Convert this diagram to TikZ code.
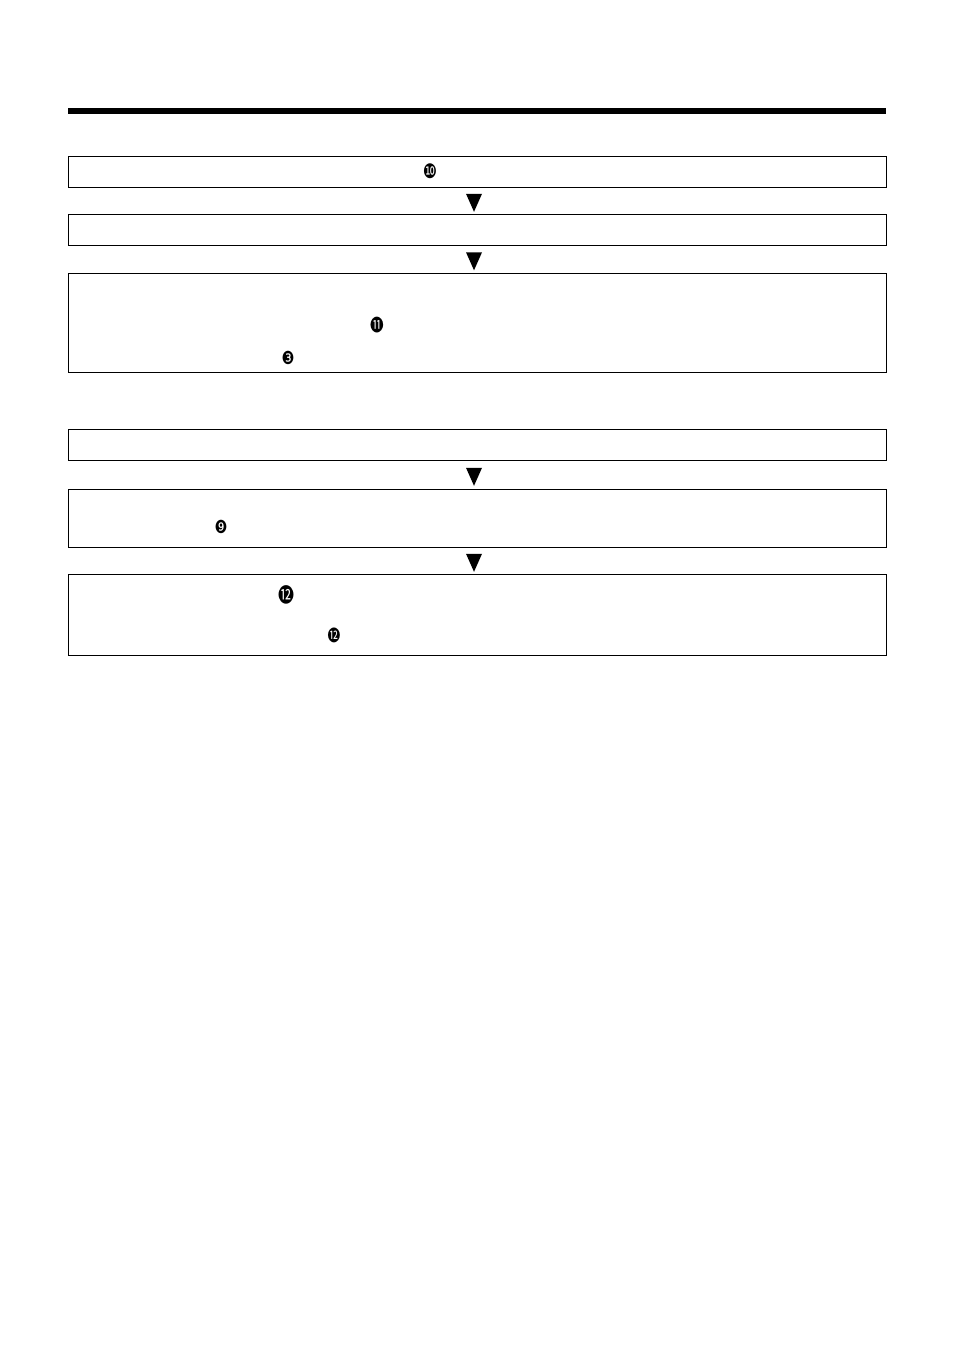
\documentclass[tikz,border=0pt]{standalone}
\usepackage{fontspec}
\newfontfamily\dejavu{DejaVu Sans}
\newfontfamily\cjkdot{Noto Sans CJK JP}
\usetikzlibrary{positioning,shapes.geometric}

\newcommand{\numtxt}[1]{\scalebox{0.8}[1]{#1}}

\begin{document}
\begin{tikzpicture}[x=1pt, y=-1pt, line width=1pt, inner sep=0pt, outer sep=0pt,
  flowbox/.style={draw, minimum width=818pt, anchor=north},
  numdot/.style={font=\dejavu\fontsize{20}{20}\selectfont},
  downtri/.style={isosceles triangle, isosceles triangle stretches, shape border rotate=270,
    minimum height=18pt, minimum width=16pt, fill, draw=none, xshift=-3pt, yshift=2pt}]

\useasboundingbox (0,0) rectangle (954,1351);
\draw[line width=6pt] (68,111) -- (886,111);

\node[flowbox, minimum height=31pt] (b1) at (477,156.5) {};
\node[flowbox, minimum height=31pt] (b2) [below=27pt of b1] {};
\node[flowbox, minimum height=99pt] (b3) [below=28pt of b2] {};
\node[flowbox, minimum height=31pt] (b4) [below=57pt of b3] {};
\node[flowbox, minimum height=58pt] (b5) [below=29pt of b4] {};
\node[flowbox, minimum height=81pt] (b6) [below=27pt of b5] {};

% circled numbers
\node[numdot] (n10) at (430,171) {\numtxt{❿}};
\node[numdot, font=\cjkdot\fontsize{17}{17}\selectfont] (n11) at (377,325) {\numtxt{⓫}};
\node[numdot, font=\dejavu\fontsize{18}{18}\selectfont] (n3) at (288,358) {\numtxt{❸}};
\node[numdot, font=\dejavu\fontsize{18}{18}\selectfont] (n9) at (221,527) {\numtxt{❾}};
\node[numdot, font=\cjkdot\fontsize{20}{20}\selectfont] (n12a) at (286,595) {\numtxt{⓬}};
\node[numdot, font=\cjkdot\fontsize{16}{16}\selectfont] (n12b) at (334,635) {\numtxt{⓬}};

\path
(b1.south) -- (b2.north) node[midway, downtri] {}
(b2.south) -- (b3.north) node[midway, downtri] {}
(b4.south) -- (b5.north) node[midway, downtri] {}
(b5.south) -- (b6.north) node[midway, downtri] {};

\end{tikzpicture}
\end{document}
